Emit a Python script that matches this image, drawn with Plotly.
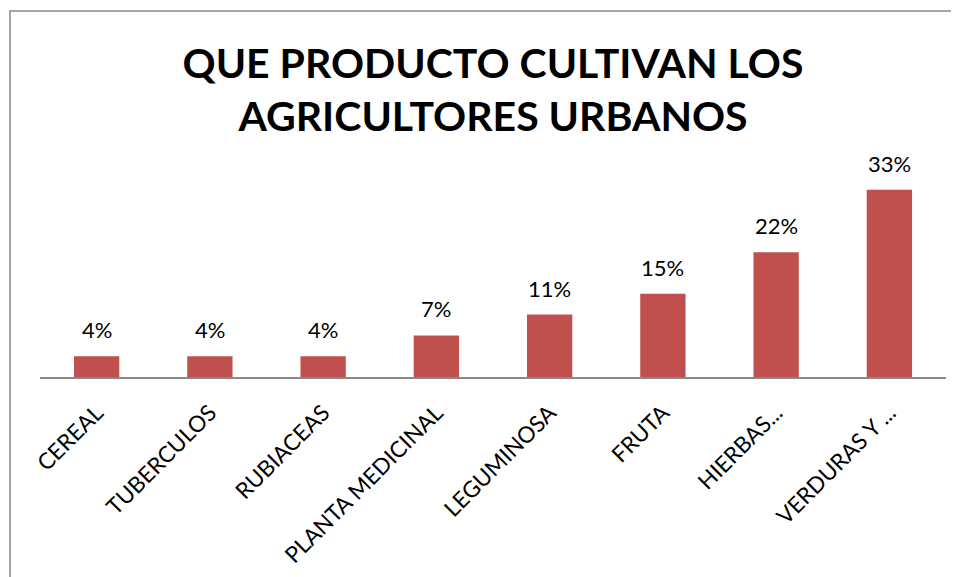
import plotly.graph_objects as go

categories = ["CEREAL", "TUBERCULOS", "RUBIACEAS", "PLANTA MEDICINAL",
              "LEGUMINOSA", "FRUTA", "HIERBAS...", "VERDURAS Y ..."]
values = [3.7, 3.7, 3.7, 7.4, 11.1, 14.8, 22.2, 33.3]
labels = [f"{round(v)}%" for v in values]

FONT = "Lato, Carlito, 'Open Sans', sans-serif"
BAR_COLOR = "#C0504D"

W, H = 959, 577
OFF = 8  # page body margin offset
L, R, T, B = 40 - OFF, 13 + OFF, 150 - OFF, 200 + OFF
plot_w = W - L - R
plot_h = H - T - B

fig = go.Figure()
fig.add_trace(go.Bar(x=categories, y=values, marker=dict(color=BAR_COLOR, line=dict(width=0)),
                     hoverinfo="skip"))

for c, v, t in zip(categories, values, labels):
    fig.add_annotation(x=c, y=v, text=t, showarrow=False, yanchor="bottom", yshift=11,
                       font=dict(family=FONT, size=22, color="#000000"))

# outer chart border
bx0, by0 = 10 - OFF, 11 - OFF
fig.add_shape(type="rect", xref="paper", yref="paper",
              x0=(bx0 - L) / plot_w, x1=(W + 20 - L) / plot_w,
              y0=(H - B - (H + 20)) / plot_h, y1=(H - B - by0) / plot_h,
              line=dict(color="#868686", width=1.5), fillcolor="rgba(0,0,0,0)", layer="below")

fig.update_layout(
    width=W, height=H,
    margin=dict(l=L, r=R, t=T, b=B, autoexpand=False),
    paper_bgcolor="white", plot_bgcolor="white",
    showlegend=False,
    bargap=0.6,
    title=dict(text="QUE PRODUCTO CULTIVAN LOS<br>AGRICULTORES URBANOS",
               x=0.5, xref="paper", xanchor="center",
               y=1 - 70 / H, yref="container", yanchor="top",
               font=dict(family=FONT, size=41, color="#000000", weight="bold")),
    xaxis=dict(showline=True, linecolor="#898989", linewidth=1.5, tickangle=-45,
               ticks="", showgrid=False, automargin=False, ticklabelstandoff=12,
               tickfont=dict(family=FONT, size=22.5, color="#000000")),
    yaxis=dict(visible=False, range=[0, plot_h / 5.62], showgrid=False, zeroline=False,
               automargin=False),
)

fig.write_html("out.html")
